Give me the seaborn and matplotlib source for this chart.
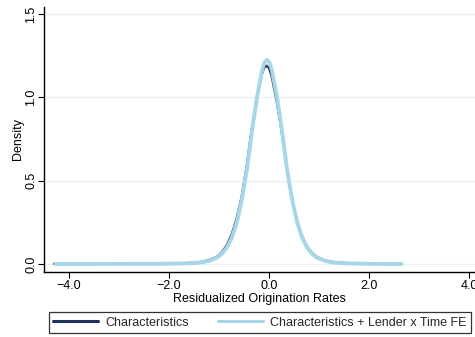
import matplotlib
matplotlib.use("Agg")
import matplotlib.pyplot as plt
import seaborn as sns
import pandas as pd
from matplotlib.lines import Line2D

# Kernel density estimates of residualized origination rates
chars_x = [-4.30, -3.50, -2.80, -2.20, -1.80, -1.55, -1.35, -1.20, -1.05, -0.95,
           -0.85, -0.75, -0.65, -0.55, -0.45, -0.35, -0.25, -0.15, -0.10, -0.05,
           0.00, 0.05, 0.15, 0.25, 0.35, 0.45, 0.55, 0.65, 0.75, 0.85, 0.95,
           1.10, 1.25, 1.45, 1.70, 2.00, 2.30, 2.65]
chars_y = [0.001, 0.001, 0.001, 0.002, 0.004, 0.007, 0.013, 0.024, 0.042, 0.068,
           0.110, 0.175, 0.270, 0.400, 0.580, 0.800, 0.980, 1.130, 1.175, 1.190,
           1.175, 1.130, 0.980, 0.800, 0.580, 0.400, 0.270, 0.175, 0.110, 0.070,
           0.044, 0.024, 0.013, 0.007, 0.004, 0.002, 0.001, 0.001]

fe_x = [-4.27, -3.50, -2.80, -2.20, -1.80, -1.54, -1.34, -1.19, -1.04, -0.94,
        -0.84, -0.74, -0.64, -0.54, -0.44, -0.34, -0.24, -0.14, -0.09, -0.04,
        0.01, 0.06, 0.16, 0.26, 0.36, 0.46, 0.56, 0.66, 0.76, 0.86, 0.96,
        1.11, 1.26, 1.46, 1.71, 2.00, 2.30, 2.65]
fe_y = [0.000, 0.000, 0.001, 0.001, 0.003, 0.005, 0.010, 0.020, 0.038, 0.062,
        0.100, 0.160, 0.255, 0.390, 0.570, 0.800, 1.000, 1.160, 1.210, 1.225,
        1.210, 1.160, 1.000, 0.800, 0.570, 0.390, 0.255, 0.160, 0.100, 0.062,
        0.038, 0.020, 0.010, 0.005, 0.003, 0.001, 0.000, 0.000]

labels = ["Characteristics", "Characteristics + Lender x Time FE"]
colors = ["#1f3358", "#a6d6e7"]

x_ticks = [-4.0, -2.0, 0.0, 2.0, 4.0]
y_ticks = [0.0, 0.5, 1.0, 1.5]

sns.set_theme(style="white")
plt.rcParams["font.family"] = ["Liberation Sans", "DejaVu Sans"]

fig = plt.figure(figsize=(4.75, 3.37), dpi=100)
ax = fig.add_axes([44 / 475, 65 / 337, 1 - 44 / 475, (272 - 7) / 337])

df_chars = pd.DataFrame({"x": chars_x, "y": chars_y})
df_fe = pd.DataFrame({"x": fe_x, "y": fe_y})

sns.lineplot(data=df_chars, x="x", y="y", ax=ax, color=colors[0], linewidth=1.6,
             sort=True, estimator=None, solid_capstyle="round")
sns.lineplot(data=df_fe, x="x", y="y", ax=ax, color=colors[1], linewidth=2.8,
             sort=True, estimator=None, solid_capstyle="round")

ax.set_xlim(-4.5, 4.12)
ax.set_ylim(-0.048, 1.542)
ax.set_xticks(x_ticks)
ax.set_xticklabels([f"{v:.1f}".replace("-", "\u2212") for v in x_ticks])
ax.set_yticks(y_ticks)
ax.set_yticklabels([f"{v:.1f}" for v in y_ticks], rotation=90, va="center")

for v in y_ticks:
    ax.axhline(v, color="#eaf1f2", linewidth=0.9, zorder=0)

for side in ["top", "right"]:
    ax.spines[side].set_visible(False)
for side in ["left", "bottom"]:
    ax.spines[side].set_color("black")
    ax.spines[side].set_linewidth(1.0)

ax.tick_params(axis="both", which="major", direction="out", length=4, width=0.8,
               color="black", labelsize=9, labelcolor="black", pad=1.5,
               left=True, bottom=True)
ax.tick_params(axis="y", pad=1)
ax.set_xlabel("Residualized Origination Rates", fontsize=9, color="black", labelpad=1)
ax.set_ylabel("Density", fontsize=9, color="black", labelpad=1)

handles = [Line2D([], [], color=colors[0], linewidth=2.2),
           Line2D([], [], color=colors[1], linewidth=2.2)]
leg = fig.legend(handles, labels, loc="lower left",
                 bbox_to_anchor=(49 / 475, 4 / 337, (471 - 49) / 475, 20 / 337),
                 mode="expand", ncol=2, frameon=True, fancybox=False,
                 fontsize=9, handlelength=3.6, handletextpad=0.6,
                 borderpad=0.35, borderaxespad=0)
leg.get_frame().set_edgecolor("black")
leg.get_frame().set_linewidth(0.9)

fig.savefig("out.png", dpi=100, facecolor="white")
